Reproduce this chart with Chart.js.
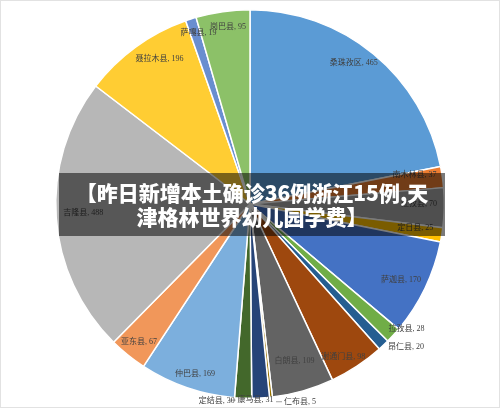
<!DOCTYPE html>
<html>
<head>
<meta charset="utf-8">
<script src="https://cdn.jsdelivr.net/npm/chart.js@4"></script>
<style>
  html, body { margin: 0; padding: 0; background: #fff; }
  #wrap { position: relative; width: 500px; height: 408px; box-sizing: border-box; border: 1px solid #e2e2e2; }
  #banner {
    position: absolute; left: 58px; top: 172px; width: 386px; height: 63px;
    background: rgba(0, 0, 0, 0.52); color: #fff; box-sizing: border-box; padding-top: 7px;
    font: 900 21px/24px "Noto Sans CJK SC", "Noto Sans", sans-serif; text-align: center;
  }
</style>
</head>
<body>
<div id="wrap">
  <canvas id="pie"></canvas>
  <div id="banner">【昨日新增本土确诊36例浙江15例,天<br>津格林世界幼儿园学费】</div>
</div>
<script>
// counties of Shigatse and their counts, clockwise from 12 o'clock
const counties = ['桑珠孜区', '南木林县', '江孜县', '定日县', '萨迦县', '拉孜县', '昂仁县', '谢通门县', '白朗县',
  '仁布县', '康马县', '定结县', '仲巴县', '亚东县', '吉隆县', '聂拉木县', '萨嘎县', '岗巴县'];
const cases = [465, 37, 70, 25, 170, 28, 20, 98, 109, 5, 31, 30, 169, 67, 488, 196, 19, 95];
const colors = ['#5B9BD5', '#ED7D31', '#A5A5A5', '#FFC000', '#4472C4', '#70AD47', '#255E91', '#9E480E', '#636363',
  '#997300', '#264478', '#43682B', '#7CAFDD', '#F1975A', '#B7B7B7', '#FFCD33', '#698ED0', '#8CC168'];

// where each data label sits: fraction of the radius, and a small turn (degrees) off the slice middle
const labelRadius = [0.90, 0.86, 0.87, 0.86, 0.87, 1.03, 1.09, 0.92, 0.84, 1.05, 1.01, 1.03, 0.92, 0.91, 0.86, 0.88, 0.92, 0.92];
const labelTurn = [-3, -2, -1, -1, 1, -4, -4, 2, 0, -8, 1.5, 7.5, -1, 0, 1, 4, 1, 1];

const dataLabels = {
  id: 'dataLabels',
  afterDatasetsDraw(chart) {
    const ctx = chart.ctx;
    const arcs = chart.getDatasetMeta(0).data;
    ctx.save();
    ctx.font = '8px "Liberation Serif", "Noto Sans CJK SC", serif';
    ctx.fillStyle = '#404040';
    ctx.textBaseline = 'middle';
    arcs.forEach((arc, i) => {
      const p = arc.getProps(['x', 'y', 'startAngle', 'endAngle', 'outerRadius'], true);
      const mid = (p.startAngle + p.endAngle) / 2 + labelTurn[i] * Math.PI / 180;
      const r = p.outerRadius * labelRadius[i];
      const lx = p.x + Math.cos(mid) * r;
      const ly = p.y + Math.sin(mid) * r;
      const txt = counties[i] + ', ' + cases[i];
      ctx.textAlign = 'center';
      ctx.fillText(txt, lx, ly);
      // short leader dashes for the crowded labels at the bottom
      if (i === 9 || i === 10) {
        const w = ctx.measureText(txt).width;
        ctx.strokeStyle = '#8a8a8a';
        ctx.lineWidth = 0.8;
        ctx.beginPath();
        ctx.moveTo(lx - w / 2 - 8, ly);
        ctx.lineTo(lx - w / 2 - 2, ly);
        ctx.stroke();
      }
    });
    ctx.restore();
  }
};

new Chart(document.getElementById('pie'), {
  type: 'pie',
  data: {
    labels: counties,
    datasets: [{
      data: cases,
      backgroundColor: colors,
      borderColor: '#ffffff',
      borderWidth: 1.5
    }]
  },
  options: {
    responsive: true,
    maintainAspectRatio: false,
    animation: false,
    layout: { padding: { top: 8, bottom: 8 } },
    plugins: {
      legend: { display: false },
      tooltip: { enabled: false }
    }
  },
  plugins: [dataLabels]
});
</script>
</body>
</html>
